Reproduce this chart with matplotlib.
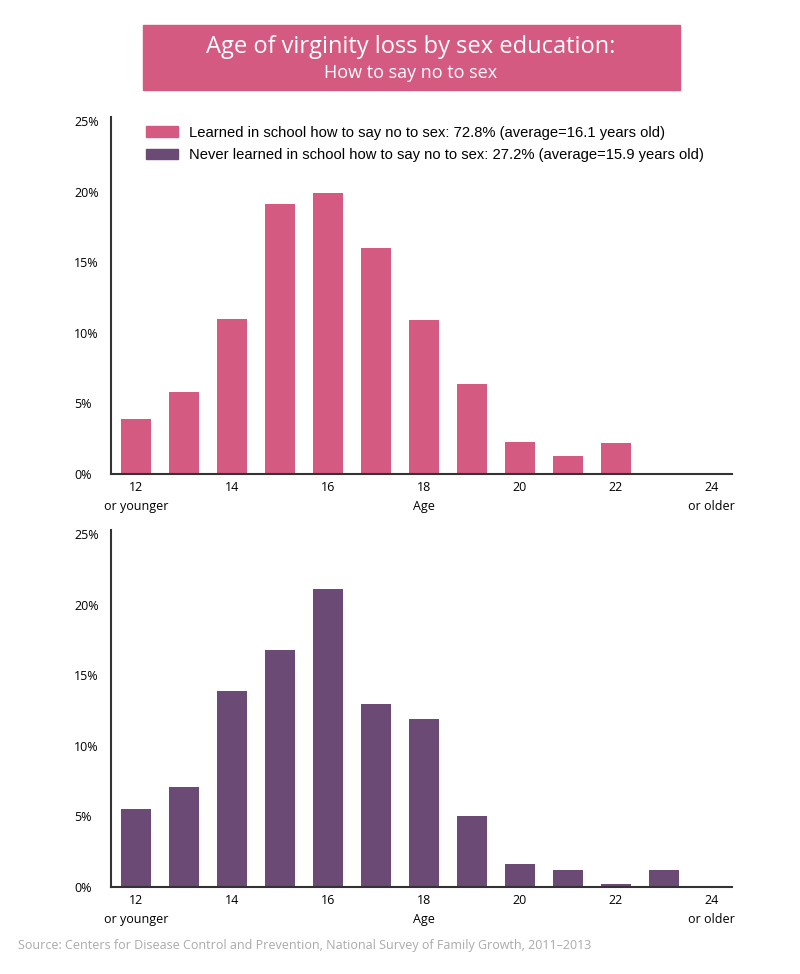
"""Age of virginity loss by sex education."""

import matplotlib

matplotlib.use("Agg")
import matplotlib.pyplot as plt
from matplotlib.patches import Patch, Rectangle

ages = list(range(12, 25))
tick_ages = [12, 14, 16, 18, 20, 22, 24]
tick_labels = ["12\nor younger", "14", "16", "18\nAge", "20", "22", "24\nor older"]
y_ticks = [0, 5, 10, 15, 20, 25]

learned = [3.9, 5.8, 11.0, 19.1, 19.9, 16.0, 10.9, 6.4, 2.3, 1.3, 2.2, 0, 0]
never = [5.5, 7.1, 13.9, 16.8, 21.1, 13.0, 11.9, 5.0, 1.6, 1.2, 0.2, 1.2, 0]

legend_labels = [
    "Learned in school how to say no to sex: 72.8% (average=16.1 years old)",
    "Never learned in school how to say no to sex: 27.2% (average=15.9 years old)",
]

PINK = "#D45A82"
PURPLE = "#6B4A75"
AXIS = "#333333"

fig = plt.figure(figsize=(8, 9.74), dpi=100)

# title banner
fig.patches.append(Rectangle((143 / 800, 1 - 90 / 974), 537 / 800, 65 / 974,
                             transform=fig.transFigure, color=PINK, zorder=0))
fig.text(411 / 800, 1 - 47 / 974, "Age of virginity loss by sex education:",
         ha="center", va="center", color="white", fontsize=17, family="Open Sans")
fig.text(411 / 800, 1 - 73 / 974, "How to say no to sex",
         ha="center", va="center", color="white", fontsize=13, family="Open Sans")


def draw_panel(ax, values, color):
    ax.bar(ages, values, width=0.625, color=color)
    ax.set_xlim(11.47, 24.42)
    ax.set_ylim(0, 25.3)
    for side in ["top", "right"]:
        ax.spines[side].set_visible(False)
    for side in ["left", "bottom"]:
        ax.spines[side].set_color(AXIS)
        ax.spines[side].set_linewidth(1.5)
    ax.set_xticks(tick_ages)
    ax.set_xticklabels(tick_labels, family="Open Sans", fontsize=9, linespacing=1.6)
    ax.set_yticks(y_ticks)
    ax.set_yticklabels([f"{t}%" for t in y_ticks], family="Open Sans", fontsize=9,
                       ha="left")
    ax.tick_params(axis="both", length=0)
    ax.tick_params(axis="x", pad=5)
    ax.tick_params(axis="y", pad=26.5)


ax1 = fig.add_axes([111 / 800, 1 - 474 / 974, 621 / 800, 357 / 974])
draw_panel(ax1, learned, PINK)
handles = [Patch(color=PINK), Patch(color=PURPLE)]
ax1.legend(handles, legend_labels, loc="upper left", bbox_to_anchor=(0.035, 1.012),
           frameon=False, prop={"family": "Liberation Sans", "size": 10.6},
           handlelength=2.2, handleheight=0.75, handletextpad=0.7, labelspacing=0.55)

ax2 = fig.add_axes([111 / 800, 1 - 887 / 974, 621 / 800, 357 / 974])
draw_panel(ax2, never, PURPLE)

fig.text(18 / 800, 1 - 946 / 974,
         "Source: Centers for Disease Control and Prevention, National Survey of Family Growth, 2011\u20132013",
         ha="left", va="center", color="#AAAAAA", fontsize=9, family="Open Sans")

plt.savefig("out.png", dpi=100)
plt.close()
